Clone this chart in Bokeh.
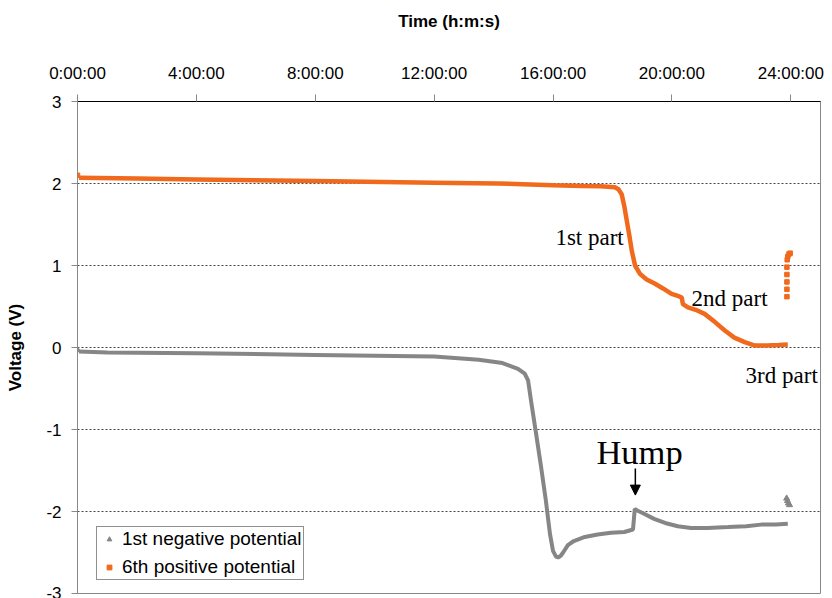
from bokeh.plotting import figure
from bokeh.models import (FixedTicker, Legend, LegendItem, Label, Arrow,
                          NormalHead, Range1d)
from bokeh.embed import file_html
from bokeh.resources import INLINE

# ---- data (hours, volts) ----
tick_hours = [0, 4, 8, 12, 16, 20, 24]
tick_labels = ["0:00:00", "4:00:00", "8:00:00", "12:00:00", "16:00:00", "20:00:00", "24:00:00"]
volt_ticks = [-3, -2, -1, 0, 1, 2, 3]
volt_labels = ["-3", "-2", "-1", "0", "1", "2", "3"]

neg_t = [0.05, 1, 4, 8, 12, 13.5, 14.3, 14.82, 15.05, 15.16, 15.26, 15.43, 15.6,
         15.76, 15.9, 16.0, 16.1, 16.17, 16.26, 16.34, 16.5, 16.7, 17.07, 17.5,
         17.95, 18.4, 18.69, 18.72, 18.75, 18.85, 19.08, 19.4, 19.77, 20.2, 20.64,
         21.2, 21.89, 22.5, 23.0, 23.5, 23.9]
neg_v = [-0.05, -0.06, -0.07, -0.09, -0.11, -0.15, -0.19, -0.26, -0.32, -0.40,
         -0.65, -1.05, -1.46, -1.87, -2.28, -2.48, -2.55, -2.56, -2.54, -2.50,
         -2.41, -2.36, -2.31, -2.28, -2.26, -2.25, -2.22, -2.10, -1.97, -1.99,
         -2.03, -2.09, -2.14, -2.18, -2.20, -2.20, -2.19, -2.18, -2.16, -2.16, -2.15]

pos_t = [0.05, 2, 4, 8, 12, 14.15, 16, 17, 17.6, 18.08, 18.2, 18.31, 18.4, 18.48,
         18.57, 18.65, 18.76, 18.92, 19.15, 19.42, 19.7, 19.99, 20.2, 20.33, 20.35,
         20.37, 20.54, 20.8, 21.1, 21.45, 21.78, 22.1, 22.45, 22.79, 23.2, 23.6, 23.9]
pos_v = [2.07, 2.06, 2.05, 2.03, 2.01, 2.0, 1.98, 1.97, 1.965, 1.955, 1.93, 1.87,
         1.72, 1.55, 1.36, 1.18, 1.0, 0.90, 0.83, 0.78, 0.72, 0.655, 0.63, 0.61,
         0.57, 0.53, 0.49, 0.46, 0.41, 0.31, 0.207, 0.12, 0.065, 0.024, 0.025,
         0.03, 0.037]

# isolated recorded points (markers)
neg_pts_t = [0.0, 23.86, 23.89, 23.92, 23.96]
neg_pts_v = [-0.03, -1.84, -1.87, -1.90, -1.92]
pos_pts_t = [0.0, 23.87, 23.87, 23.87, 23.87, 23.87, 23.88, 23.9, 23.94, 23.98]
pos_pts_v = [2.10, 0.62, 0.71, 0.80, 0.89, 0.98, 1.07, 1.11, 1.14, 1.15]

GRAY = "#868686"
ORANGE = "#F0691C"

p = figure(width=830, height=598, x_range=Range1d(0, 25), y_range=Range1d(-3, 3),
           x_axis_location="above", output_backend="svg", toolbar_location=None,
           min_border_left=77, min_border_right=10, min_border_top=101,
           min_border_bottom=5)
p.outline_line_color = "#888888"
p.background_fill_color = "white"
p.border_fill_color = "white"

# axes
xa = p.xaxis[0]
xa.ticker = FixedTicker(ticks=tick_hours)
xa.major_label_overrides = {t: lab for t, lab in zip(tick_hours, tick_labels)}
xa.axis_label = "Time (h:m:s)"
xa.axis_label_text_font = "Liberation Sans"
xa.axis_label_text_font_style = "bold"
xa.axis_label_text_font_size = "17px"
xa.axis_label_text_color = "black"
xa.axis_label_standoff = 30
xa.major_label_text_font = "Liberation Sans"
xa.major_label_text_font_size = "17px"
xa.major_label_text_color = "black"
xa.major_label_standoff = 12
xa.axis_line_color = "black"
xa.major_tick_line_color = "#888888"
xa.major_tick_out = 7
xa.major_tick_in = 0
xa.minor_tick_line_color = None

ya = p.yaxis[0]
ya.ticker = FixedTicker(ticks=volt_ticks)
ya.major_label_overrides = {t: lab for t, lab in zip(volt_ticks, volt_labels)}
ya.axis_label = "Voltage (V)"
ya.axis_label_text_font = "Liberation Sans"
ya.axis_label_text_font_style = "bold"
ya.axis_label_text_font_size = "17px"
ya.axis_label_text_color = "black"
ya.axis_label_standoff = 18
ya.major_label_text_font = "Liberation Sans"
ya.major_label_text_font_size = "17px"
ya.major_label_text_color = "black"
ya.major_label_standoff = 10
ya.axis_line_color = "#888888"
ya.major_tick_line_color = "#888888"
ya.major_tick_out = 6
ya.major_tick_in = 0
ya.minor_tick_line_color = None

p.xgrid.visible = False
p.ygrid.grid_line_color = "#444444"
p.ygrid.grid_line_dash = "2 2"
p.ygrid.grid_line_width = 1

# series
p.line(neg_t, neg_v, line_color=GRAY, line_width=4)
p.line(pos_t, pos_v, line_color=ORANGE, line_width=4.5)
r_neg = p.scatter(neg_pts_t, neg_pts_v, marker="triangle", size=6,
                  fill_color=GRAY, line_color=GRAY)
r_pos = p.scatter(pos_pts_t, pos_pts_v, marker="square", size=4.5,
                  fill_color=ORANGE, line_color=ORANGE)

legend = Legend(items=[LegendItem(label="1st negative potential", renderers=[r_neg]),
                       LegendItem(label="6th positive potential", renderers=[r_pos])],
                location=(19, 13), orientation="vertical")
legend.label_text_font = "Liberation Sans"
legend.label_text_font_size = "19px"
legend.label_text_color = "black"
legend.border_line_color = "#222222"
legend.border_line_width = 1
legend.background_fill_color = "white"
legend.background_fill_alpha = 1
legend.padding = 1
legend.spacing = 6
legend.glyph_width = 22
legend.glyph_height = 12
legend.label_height = 18
legend.label_standoff = 2
legend.margin = 0
p.add_layout(legend)

serif = "Liberation Serif"
for (x, y, txt, fs) in [(16.08, 1.34, "1st part", "23px"),
                        (20.66, 0.60, "2nd part", "23px"),
                        (22.48, -0.34, "3rd part", "23px"),
                        (17.46, -1.28, "Hump", "34.5px")]:
    p.add_layout(Label(x=x, y=y, text=txt, text_font=serif, text_font_size=fs,
                       text_color="black", text_baseline="alphabetic"))

p.add_layout(Arrow(end=NormalHead(size=10, fill_color="black", line_color="black"),
                   x_start=18.77, y_start=-1.476, x_end=18.77, y_end=-1.80,
                   line_color="black", line_width=1.5))

open("out.html", "w").write(file_html(p, INLINE))
